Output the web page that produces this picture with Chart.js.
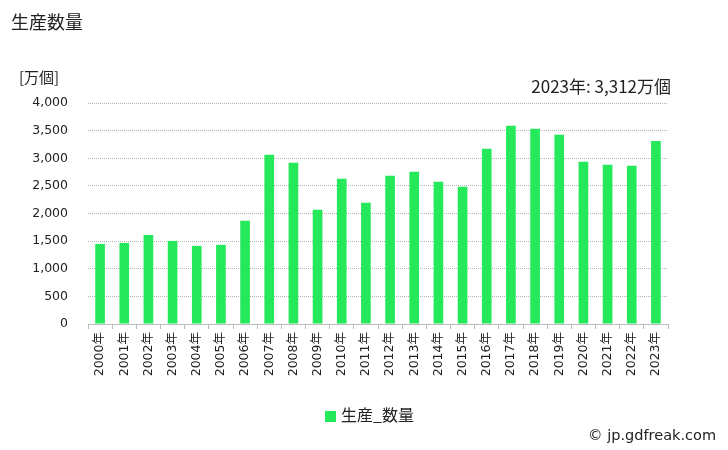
<!DOCTYPE html>
<html><head><meta charset="utf-8">
<script src="https://cdn.jsdelivr.net/npm/chart.js@4"></script>
<style>html,body{margin:0;padding:0;background:#fff}</style>
</head><body>
<canvas id="c" width="728" height="450"></canvas>
<script>
const categories = ["2000年","2001年","2002年","2003年","2004年","2005年","2006年","2007年","2008年","2009年","2010年","2011年","2012年","2013年","2014年","2015年","2016年","2017年","2018年","2019年","2020年","2021年","2022年","2023年"];
const productionValues = [1450,1468,1613,1504,1414,1432,1867,3063,2918,2066,2628,2193,2683,2755,2574,2483,3172,3589,3535,3426,2937,2882,2864,3312];
const seriesLabel = "生産_数量";
const chartTitle = "生産数量";
const unitLabel = "[万個]";
const latestNote = "2023年: 3,312万個";
const credit = "© jp.gdfreak.com";

const FONT = '"DejaVu Sans", "Noto Sans CJK JP", sans-serif';
const BAR = '#25e85a';
const TXT = '#222222';

const overlay = {
  id: 'overlay',
  afterDraw(chart) {
    const ctx = chart.ctx;
    ctx.save();
    ctx.fillStyle = TXT;
    ctx.textBaseline = 'middle';
    ctx.font = '18px "Noto Sans CJK JP", sans-serif';
    ctx.textAlign = 'left';
    ctx.fillText(chartTitle, 11, 22);
    ctx.font = '15px "Noto Sans CJK JP", sans-serif';
    ctx.fillText(unitLabel, 19, 77);
    ctx.textAlign = 'right';
    ctx.font = '17px "Noto Sans CJK JP", sans-serif';
    ctx.fillText(latestNote, 671, 87);
    // legend
    ctx.fillStyle = BAR;
    ctx.fillRect(325, 411, 11, 11);
    ctx.fillStyle = TXT;
    ctx.textAlign = 'left';
    ctx.font = '16px "Noto Sans CJK JP", sans-serif';
    ctx.fillText(seriesLabel, 341, 415);
    ctx.textAlign = 'right';
    ctx.font = '14.5px "DejaVu Sans", sans-serif';
    ctx.fillText(credit, 716, 436);
    ctx.restore();
  }
};

new Chart(document.getElementById('c'), {
  type: 'bar',
  data: {
    labels: categories,
    datasets: [{
      label: seriesLabel,
      data: productionValues,
      backgroundColor: BAR,
      borderWidth: 0,
      categoryPercentage: 1.0,
      barPercentage: 0.4
    }]
  },
  options: {
    responsive: false,
    animation: false,
    devicePixelRatio: 1,
    layout: { padding: { left: 0, right: 60, top: 103, bottom: 0 } },
    plugins: { legend: { display: false }, tooltip: { enabled: false }, title: { display: false } },
    scales: {
      x: {
        offset: true,
        afterFit(scale) { scale.height = 126; },
        grid: { drawOnChartArea: false, drawTicks: true, tickLength: 5, color: '#bbbbbb', offset: true },
        border: { display: true, color: '#bbbbbb' },
        ticks: { minRotation: 90, maxRotation: 90, autoSkip: false, color: TXT, padding: 3,
                 font: { family: FONT, size: 12.5 } }
      },
      y: {
        min: 0, max: 4000,
        afterFit(scale) { scale.width = 88; },
        grid: { drawTicks: false, color: '#b4b4b4', lineWidth: 1 },
        border: { display: false, dash: [1, 1] },
        ticks: { stepSize: 500, padding: 20, color: TXT, font: { family: FONT, size: 12.5 },
                 callback: v => v.toLocaleString('en-US') }
      }
    }
  },
  plugins: [overlay]
});
</script>
</body></html>
